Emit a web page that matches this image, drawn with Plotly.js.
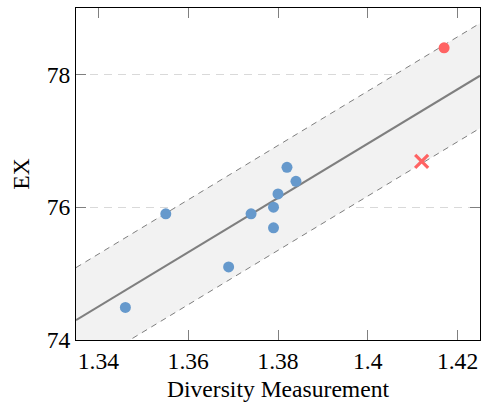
<!DOCTYPE html>
<html>
<head>
<meta charset="utf-8">
<script src="https://cdn.plot.ly/plotly-3.0.1.min.js"></script>
<style>html,body{margin:0;padding:0;background:#fff;}#chart{width:482px;height:403px;}</style>
</head>
<body>
<div id="chart"></div>
<script>
// Data
const blueX = [1.346, 1.355, 1.369, 1.374, 1.379, 1.379, 1.380, 1.382, 1.384];
const blueY = [74.49, 75.90, 75.10, 75.90, 75.69, 76.00, 76.20, 76.60, 76.39];
const redCircleX = [1.417];
const redCircleY = [78.40];
const redCrossX = [1.412];
const redCrossY = [76.69];
// Regression line and band, read at the axis edges
const fitX = [1.335, 1.425];
const fitY = [74.30, 77.98];
const bandHalf = 0.79;
const xTicks = [1.34, 1.36, 1.38, 1.40, 1.42];
const xTickText = ['1.34', '1.36', '1.38', '1.4', '1.42'];
const yTicks = [74, 76, 78];

const lowerY = fitY.map(v => v - bandHalf);
const upperY = fitY.map(v => v + bandHalf);

const traces = [
  {x: fitX, y: lowerY, mode: 'lines', line: {color: '#707070', width: 0.9, dash: '6px,5px'}, hoverinfo: 'skip', showlegend: false},
  {x: fitX, y: upperY, mode: 'lines', fill: 'tonexty', fillcolor: '#f2f2f2', line: {color: '#707070', width: 0.9, dash: '6px,5px'}, hoverinfo: 'skip', showlegend: false},
  {x: fitX, y: fitY, mode: 'lines', line: {color: '#7f7f7f', width: 2}, showlegend: false},
  {x: blueX, y: blueY, mode: 'markers', marker: {color: '#6699cc', size: 11, line: {width: 0}}, showlegend: false},
  {x: redCircleX, y: redCircleY, mode: 'markers', marker: {color: '#ff6363', size: 11, line: {width: 0}}, showlegend: false},
  {x: redCrossX, y: redCrossY, mode: 'markers', marker: {symbol: 'x-thin', color: '#ff6363', size: 13, line: {color: '#ff6363', width: 3.2}}, showlegend: false}
];

const fontFam = 'Liberation Serif';
const fs = 23.6;
const layout = {
  width: 482, height: 403,
  margin: {l: 76, r: 2, t: 8, b: 63},
  paper_bgcolor: '#fff', plot_bgcolor: '#fff',
  font: {family: fontFam, size: fs, color: '#000'},
  showlegend: false,
  xaxis: {
    range: [1.335, 1.425], tickvals: xTicks, ticktext: xTickText,
    ticks: 'inside', ticklen: 10, tickcolor: '#808080', tickwidth: 1,
    showline: true, linecolor: '#000', linewidth: 1, mirror: 'ticks',
    showgrid: false, zeroline: false, layer: 'below traces',
    tickfont: {family: fontFam, size: fs},
    title: {text: 'Diversity Measurement', font: {family: fontFam, size: fs}, standoff: 7}
  },
  yaxis: {
    range: [74, 79], tickvals: yTicks,
    ticks: 'inside', ticklen: 10, tickcolor: '#808080', tickwidth: 1,
    showline: true, linecolor: '#000', linewidth: 1, mirror: 'ticks',
    showgrid: true, gridcolor: '#d9d9d9', gridwidth: 1, griddash: '8px,6px',
    zeroline: false, layer: 'below traces',
    tickfont: {family: fontFam, size: fs},
    title: {text: 'EX', font: {family: fontFam, size: fs}, standoff: 10}
  }
};

Plotly.newPlot('chart', traces, layout, {displayModeBar: false, staticPlot: true});
</script>
</body>
</html>
